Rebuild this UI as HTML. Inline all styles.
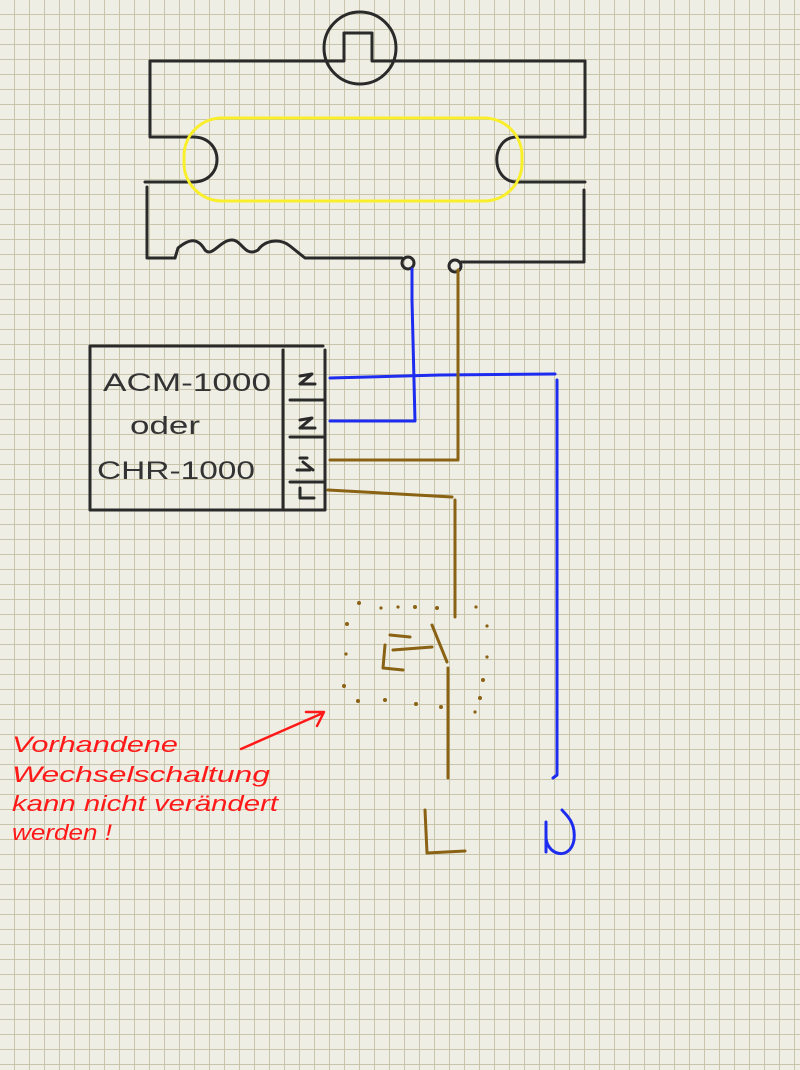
<!DOCTYPE html>
<html><head><meta charset="utf-8"><style>
html,body{margin:0;padding:0;width:800px;height:1070px;overflow:hidden;}
body{background-color:#efeee4;
background-image:linear-gradient(to right,#c9c5aa 0,#c9c5aa 1px,transparent 1px),linear-gradient(to bottom,#c9c5aa 0,#c9c5aa 1px,transparent 1px);
background-size:15px 15px;background-position:14px 14px;}
svg{display:block;position:absolute;left:0;top:0}
</style></head><body>
<svg width="800" height="1070" viewBox="0 0 800 1070" xmlns="http://www.w3.org/2000/svg">

<g fill="none" stroke="#2a2a2a" stroke-width="3" stroke-linecap="round" stroke-linejoin="round">
<path d="M150 61H325M395 61H585"/>
<circle cx="360" cy="48" r="36"/>
<path d="M325 61H344V33H372V61H395"/>
<path d="M150 61V137H193"/>
<path d="M193 137C225 137 225 182 193 182H145"/>
<path d="M147 187V258H175"/>
<path d="M175 258L178 248C190 238 198 238 205 250C212 258 220 240 232 240C242 240 245 258 258 250C265 240 280 238 290 246L305 258H402"/>
<circle cx="408" cy="263" r="6"/>
<circle cx="455" cy="266" r="6"/>
<path d="M461 262H584V190"/>
<path d="M585 61V137H517C490 137 490 182 517 182H585"/>
<path d="M91 346H323M90 346V510H324M283 350V508M325 350V510"/>
<path d="M290 400H323M290 437H323M290 482H323"/>
<path d="M300 376L312 374L300 384H315M300 420L312 418L300 428H315M300 458H307M303 462L313 470M297 470H310M300 488V498H314"/>
</g>
<g font-family="'Liberation Sans',sans-serif" fill="#333" font-size="25">
<text x="103" y="391" textLength="168" lengthAdjust="spacingAndGlyphs">ACM-1000</text>
<text x="130" y="434" textLength="70" lengthAdjust="spacingAndGlyphs">oder</text>
<text x="97" y="479" textLength="158" lengthAdjust="spacingAndGlyphs">CHR-1000</text>
</g>

<g fill="none" stroke="#1e2cf0" stroke-width="3" stroke-linecap="round" stroke-linejoin="round">
<path d="M412 269V300L415 421H330"/>
<path d="M330 378L440 375L555 374"/>
<path d="M557 380V775L553 778"/>
<path d="M546 822L546 852M546 835C545 855 570 862 574 840C576 822 566 815 562 810"/>
</g>

<g fill="none" stroke="#8a6214" stroke-width="3" stroke-linecap="round" stroke-linejoin="round">
<path d="M458 270V460H330"/>
<path d="M328 490L452 497"/>
<path d="M455 500V617"/>
<path d="M432 625L447 662M448 668V778"/>
<path d="M390 635L410 637M385 645L383 668L403 670M393 650L432 647"/>
<path d="M425 810L427 853L465 851"/>
</g>
<g fill="#8a6214">
<circle cx="359" cy="603" r="2"/><circle cx="381" cy="608" r="1.6"/><circle cx="398" cy="607" r="1.6"/>
<circle cx="415" cy="607" r="2"/><circle cx="437" cy="608" r="2"/><circle cx="476" cy="607" r="1.6"/>
<circle cx="347" cy="624" r="2"/><circle cx="487" cy="626" r="1.6"/><circle cx="346" cy="654" r="1.6"/>
<circle cx="487" cy="657" r="1.6"/><circle cx="344" cy="686" r="2"/><circle cx="483" cy="680" r="2"/>
<circle cx="358" cy="701" r="2"/><circle cx="385" cy="700" r="2"/><circle cx="416" cy="704" r="2"/>
<circle cx="441" cy="707" r="2"/><circle cx="480" cy="698" r="2"/><circle cx="475" cy="712" r="1.6"/>
</g>

<g fill="none" stroke="#ff1a1a" stroke-width="2.5" stroke-linecap="round" stroke-linejoin="round">
<path d="M241 749L323 713M306 712L324 712L317 726"/>
</g>
<g font-family="'Liberation Sans',sans-serif" fill="#ff1a1a" font-size="22" font-style="italic">
<text x="12" y="752" textLength="166" lengthAdjust="spacingAndGlyphs">Vorhandene</text>
<text x="12" y="782" textLength="258" lengthAdjust="spacingAndGlyphs">Wechselschaltung</text>
<text x="12" y="811" textLength="266" lengthAdjust="spacingAndGlyphs">kann nicht verändert</text>
<text x="12" y="840" textLength="100" lengthAdjust="spacingAndGlyphs">werden !</text>
</g>

<rect x="184" y="118" width="338" height="83" rx="38" ry="38" fill="none" stroke="#f8ee2a" stroke-width="3"/>
</svg>
</body></html>
